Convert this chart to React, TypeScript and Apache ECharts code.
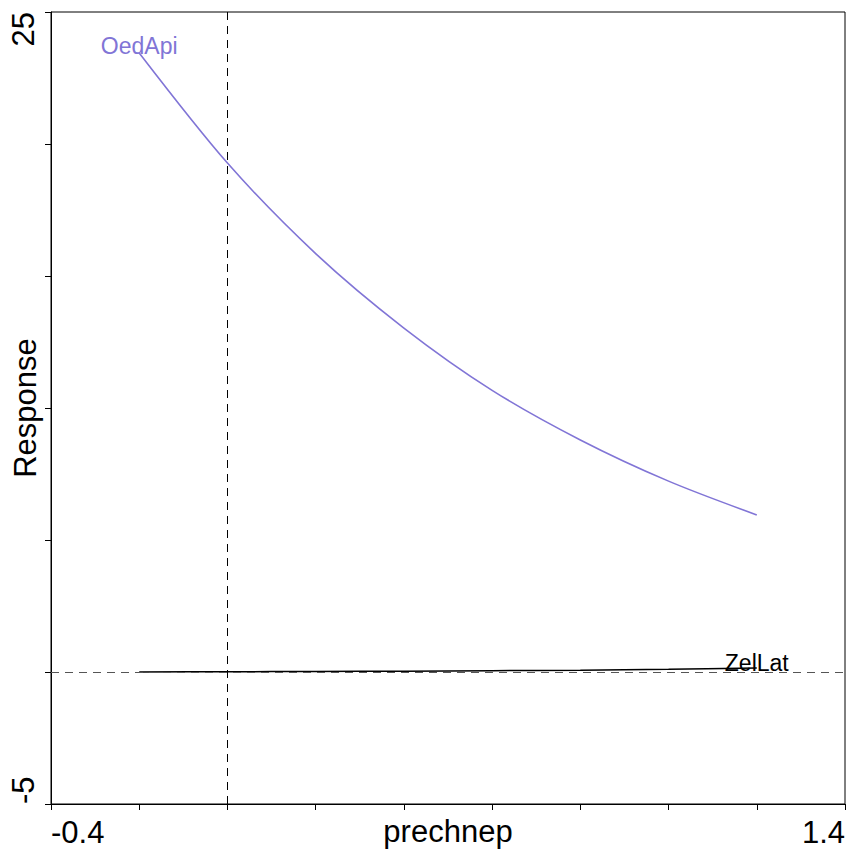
import React, { useEffect, useRef } from "react";
import * as echarts from "echarts";

const xValues = [-0.2, 0, 0.2, 0.4, 0.6, 0.8, 1.0, 1.2];
const oedApi = [23.45, 19.28, 15.85, 13.03, 10.67, 8.79, 7.23, 5.95];
const zelLat = [0, 0.01, 0.02, 0.03, 0.05, 0.07, 0.1, 0.15];
const xTickLabels = ["-0.4", "1.4"];
const yTickLabels = ["-5", "25"];

const FONT = "'Liberation Sans', Arial, Helvetica, sans-serif";

export default function App() {
  const ref = useRef<HTMLDivElement>(null);
  useEffect(() => {
    if (!ref.current) return;
    const chart = echarts.init(ref.current, null, { renderer: "svg" });
    const purple = "#8175d6";
    const oedData = xValues.map((x, i) => [x, oedApi[i]]);
    const zelData = xValues.map((x, i) => [x, zelLat[i]]);
    chart.setOption({
      animation: false,
      backgroundColor: "#ffffff",
      grid: {
        left: 51,
        right: 1,
        top: 12,
        bottom: 48,
        containLabel: false,
        outerBoundsMode: "none",
        show: true,
        borderColor: "#000",
        borderWidth: 1,
        backgroundColor: "transparent",
      },
      xAxis: {
        type: "value",
        min: -0.4,
        max: 1.4,
        interval: 0.2,
        name: "prechnep",
        nameLocation: "middle",
        nameGap: 12,
        nameMoveOverlap: false,
        nameTextStyle: { fontFamily: FONT, fontSize: 31, color: "#000" },
        axisLine: { show: true, onZero: false, lineStyle: { color: "#000", width: 1 } },
        axisTick: { show: true, length: 6, lineStyle: { color: "#000" } },
        splitLine: { show: false },
        axisLabel: {
          margin: 13,
          fontFamily: FONT,
          fontSize: 31,
          color: "#000",
          showMinLabel: true,
          showMaxLabel: true,
          alignMinLabel: "left",
          alignMaxLabel: "right",
          formatter: (v: number) =>
            Math.abs(v + 0.4) < 1e-9 ? xTickLabels[0] : Math.abs(v - 1.4) < 1e-9 ? xTickLabels[1] : "",
        },
      },
      yAxis: {
        type: "value",
        min: -5,
        max: 25,
        interval: 5,
        name: "Response",
        nameLocation: "middle",
        nameGap: 10,
        nameRotate: 90,
        nameMoveOverlap: false,
        nameTextStyle: { fontFamily: FONT, fontSize: 31, color: "#000" },
        axisLine: { show: true, onZero: false, lineStyle: { color: "#000", width: 1 } },
        axisTick: { show: true, length: 6, lineStyle: { color: "#000" } },
        splitLine: { show: false },
        axisLabel: {
          margin: 12,
          rotate: 90,
          fontFamily: FONT,
          fontSize: 31,
          color: "#000",
          showMinLabel: true,
          showMaxLabel: true,
          alignMinLabel: "left",
          alignMaxLabel: "right",
          formatter: (v: number) =>
            Math.abs(v + 5) < 1e-9 ? yTickLabels[0] : Math.abs(v - 25) < 1e-9 ? yTickLabels[1] : "",
        },
      },
      series: [
        {
          type: "line",
          name: "OedApi",
          data: oedData,
          smooth: 0.3,
          showSymbol: false,
          symbol: "none",
          lineStyle: { color: purple, width: 1.6 },
          z: 3,
          markPoint: {
            symbol: "circle",
            symbolSize: 0,
            data: [
              {
                coord: oedData[0],
                label: {
                  show: true,
                  position: "top",
                  distance: 0,
                  offset: [0, 5],
                  formatter: "OedApi",
                  fontFamily: FONT,
                  fontSize: 23,
                  color: purple,
                },
              },
            ],
          },
          markLine: {
            silent: true,
            symbol: "none",
            label: { show: false },
            data: [
              { xAxis: 0, lineStyle: { color: "#000", type: [8, 6], width: 1 } },
              { yAxis: 0, lineStyle: { color: "#555", type: [8, 6], width: 1 } },
            ],
          },
        },
        {
          type: "line",
          name: "ZelLat",
          data: zelData,
          smooth: 0.3,
          showSymbol: false,
          symbol: "none",
          lineStyle: { color: "#000", width: 1.5 },
          z: 3,
          markPoint: {
            symbol: "circle",
            symbolSize: 0,
            data: [
              {
                coord: zelData[zelData.length - 1],
                label: {
                  show: true,
                  position: "top",
                  distance: 0,
                  offset: [0, 6],
                  formatter: "ZelLat",
                  fontFamily: FONT,
                  fontSize: 23,
                  color: "#000",
                },
              },
            ],
          },
        },
      ],
    });
    return () => chart.dispose();
  }, []);
  return (
    <div
      ref={ref}
      style={{ position: "absolute", left: 0, top: 0, width: 846, height: 852, background: "#fff" }}
    />
  );
}
